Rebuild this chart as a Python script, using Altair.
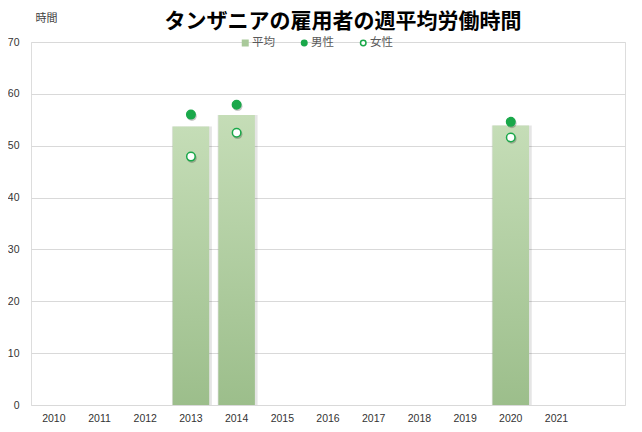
import altair as alt
import pandas as pd

years = ["2010", "2011", "2012", "2013", "2014", "2015", "2016", "2017",
         "2018", "2019", "2020", "2021"]
x_domain = years + [""]  # extra empty slot on the right, as in the reference

data_years = ["2013", "2014", "2020"]
avg_values = [53.7, 55.9, 53.9]
male_values = [56.0, 57.9, 54.6]
female_values = [47.9, 52.5, 51.6]

series_names = ["平均", "男性", "女性"]
fill_colors = ["#a9c99a", "#1aa84a", "#ffffff"]
stroke_colors = ["#a9c99a", "#1aa84a", "#1aa84a"]
shapes = ["square", "circle", "circle"]

bar_df = pd.DataFrame({"year": data_years, "value": avg_values})
pts_df = pd.DataFrame({
    "year": data_years * 2,
    "series": ["男性"] * 3 + ["女性"] * 3,
    "value": male_values + female_values,
})

FONT = "Noto Sans CJK JP"
NUMFONT = "Liberation Sans"

x_enc = alt.X(
    "year:N",
    scale=alt.Scale(domain=x_domain, paddingInner=0.2, paddingOuter=0.1),
    axis=alt.Axis(title=None, labelAngle=0, ticks=False, domain=False,
                  labelFont=NUMFONT, labelFontSize=10.5, labelColor="#333333",
                  labelPadding=8),
)
y_enc = alt.Y(
    "value:Q",
    scale=alt.Scale(domain=[0, 70]),
    axis=alt.Axis(values=list(range(0, 71, 10)), title="時間", titleAngle=0,
                  titleX=15, titleY=-24, titleAlign="center",
                  titleBaseline="middle", titleFont=FONT, titleFontSize=11,
                  titleFontWeight="normal", titleColor="#404040",
                  grid=True, gridColor="#d9d9d9", ticks=False, domain=False,
                  labelFont=NUMFONT, labelFontSize=10.5, labelColor="#333333",
                  labelPadding=12),
)

bar_grad = alt.Gradient(
    gradient="linear",
    stops=[alt.GradientStop(color="#c5ddb7", offset=0),
           alt.GradientStop(color="#9cbe8b", offset=1)],
    x1=0, x2=0, y1=0, y2=1,
)

bar_shadow = alt.Chart(bar_df).mark_bar(color="#000000", opacity=0.10, size=40, xOffset=1).encode(
    x=x_enc, y=y_enc, y2=alt.datum(0))
bars = alt.Chart(bar_df).mark_bar(color=bar_grad).encode(x=x_enc, y=y_enc, y2=alt.datum(0))

pt_shadow = alt.Chart(pts_df).mark_point(filled=True, color="#000000", opacity=0.22,
                                         size=95, xOffset=1, yOffset=1.5).encode(x=x_enc, y=y_enc)

legend = alt.Legend(orient="none", legendX=208.5, legendY=-5, direction="horizontal",
                    title=None, padding=0, symbolSize=30, symbolStrokeWidth=1.5,
                    labelFont=FONT, labelFontSize=11.5, labelColor="#595959",
                    labelOffset=1, columnPadding=23)

points = alt.Chart(pts_df).mark_point(filled=True, size=72, strokeWidth=1.5, opacity=1).encode(
    x=x_enc,
    y=y_enc,
    fill=alt.Fill("series:N", scale=alt.Scale(domain=series_names, range=fill_colors), legend=legend),
    stroke=alt.Stroke("series:N", scale=alt.Scale(domain=series_names, range=stroke_colors), legend=legend),
    shape=alt.Shape("series:N", scale=alt.Scale(domain=series_names, range=shapes), legend=legend),
)

chart = alt.layer(bar_shadow, bars, pt_shadow, points).properties(
    width=594,
    height=363,
    padding={"left": 23, "top": 34, "right": 9, "bottom": 19},
    autosize=alt.AutoSizeParams(type="none"),
    title=alt.TitleParams("タンザニアの雇用者の週平均労働時間", font=FONT, fontSize=21,
                          fontWeight="bold", color="#000000", anchor="middle",
                          dx=15, offset=-20),
).configure_view(stroke=None).configure(background="#ffffff")

chart.save("out.html", embed_options={"renderer": "svg", "actions": False})
